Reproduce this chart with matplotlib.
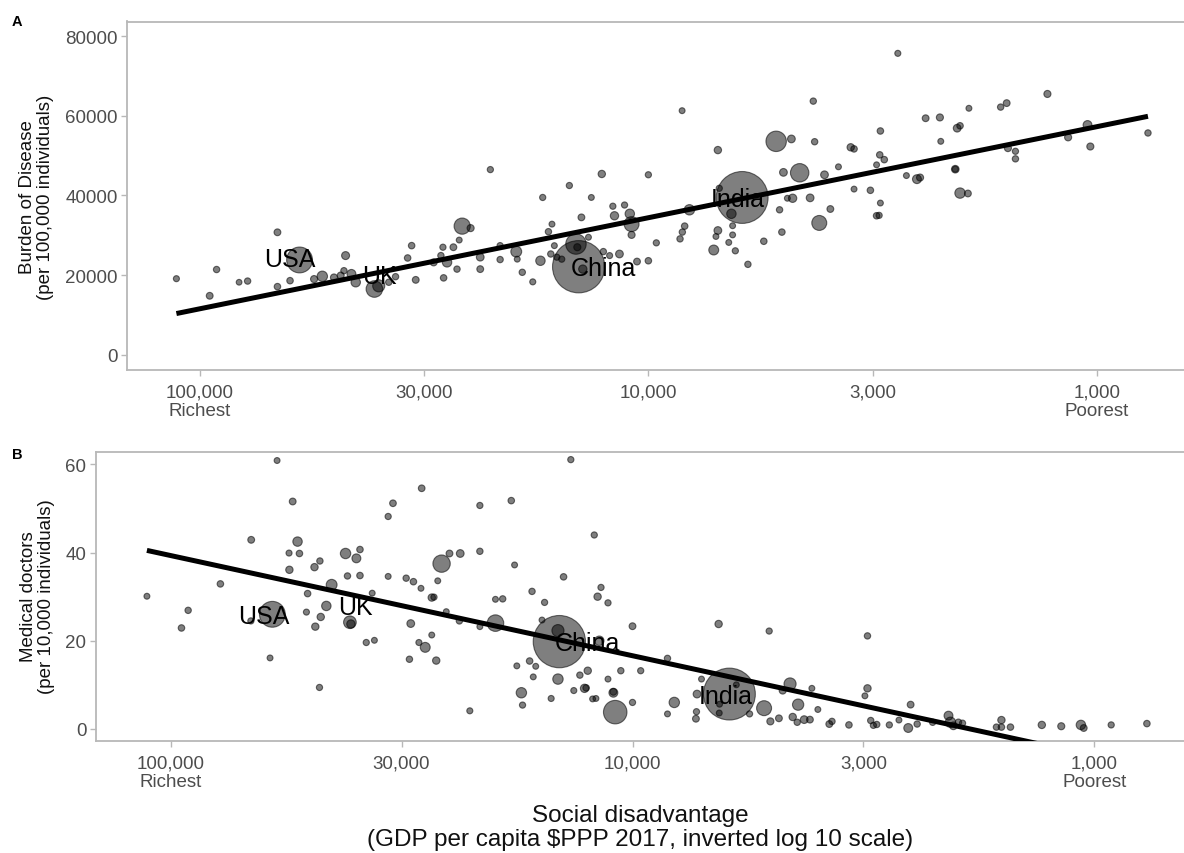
import numpy as np
import matplotlib
matplotlib.use('Agg')
import matplotlib.pyplot as plt

plt.rcParams['font.family'] = ['Liberation Sans', 'DejaVu Sans']

# Panel A: GDP per capita ($PPP 2017), burden of disease (per 100,000), population (millions)
gdp_a = [112700, 95000, 91700, 81700, 78200, 67100, 67100, 59900, 62900, 53300,
         55600, 47300, 50200, 48500, 47700, 45900, 44900, 40800, 39900, 37900,
         36600, 34400, 33700, 33000, 30100, 28600, 28700, 28100, 29000, 27200,
         26700, 26400, 26000, 24900, 23700, 23700, 22500, 21400, 21400, 19700,
         19600, 19100, 18100, 17400, 17200, 16700, 16400, 16500, 16200, 16000,
         15600, 15000, 14500, 14100, 14400, 14300, 14000, 13600, 13400, 12700,
         12600, 12200, 12000, 11900, 11600, 11300, 11000, 10900, 10900, 10600,
         10000, 10000, 9600, 8410, 8100, 8300, 8400, 8500, 7000, 6950,
         7000, 7150, 7070, 6180, 6530, 6490, 6490, 6620, 6400, 6000,
         5530, 5190, 4800, 5100, 5040, 5000, 4900, 4770, 4600, 4360,
         4290, 4260, 4050, 4160, 3930, 3770, 3480, 3540, 3480, 3200,
         3100, 3060, 3040, 3040, 3050, 2980, 3100, 2780, 2660, 2520,
         2480, 2410, 2240, 2230, 2050, 2020, 2070, 2070, 2020, 1940,
         1930, 1640, 1590, 1580, 1520, 1520, 1290, 1160, 1050, 1035, 770]
burden_a = [19.1, 14.8, 21.4, 18.2, 18.5, 30.75, 17.1, 23.8, 18.6, 19.7,
            19.0, 24.9, 19.4, 19.9, 21.1, 20.3, 18.2, 16.5, 17.3, 18.2,
            19.6, 24.3, 27.4, 18.8, 23.2, 19.3, 27.0, 23.2, 24.9, 27.0,
            21.5, 28.8, 32.3, 31.8, 24.5, 21.5, 46.5, 23.9, 27.4, 25.9,
            24.0, 20.7, 18.3, 23.6, 39.5, 30.9, 32.8, 25.3, 27.4, 24.5,
            24.0, 42.5, 27.8, 34.5, 27.0, 22.1, 21.5, 29.5, 39.5, 45.4,
            25.9, 24.9, 37.3, 34.9, 25.3, 37.6, 35.4, 32.8, 30.1, 23.4,
            45.2, 23.6, 28.1, 61.3, 36.4, 32.3, 30.8, 29.1, 51.4, 41.8,
            31.2, 26.3, 29.7, 39.5, 35.4, 32.4, 30.1, 28.2, 26.1, 22.7,
            28.5, 53.6, 54.2, 36.4, 30.8, 45.8, 39.3, 39.3, 45.7, 39.4,
            63.7, 53.5, 45.2, 33.1, 36.6, 47.2, 41.6, 52.1, 51.7, 41.3,
            34.9, 35.0, 38.1, 56.2, 50.2, 49.0, 47.7, 75.7, 45.0, 44.1,
            44.5, 59.4, 59.6, 53.6, 56.9, 57.5, 46.6, 46.6, 40.6, 40.5,
            61.9, 62.2, 63.2, 51.9, 51.1, 49.2, 65.5, 54.6, 57.7, 52.3, 55.7]
pop_a = [3, 8, 5, 1, 5, 8, 6, 330, 6, 40,
         10, 17, 10, 9, 5, 25, 30, 126, 60, 5,
         5, 6, 6, 8, 10, 6, 4, 30, 5, 8,
         5, 2, 120, 10, 15, 8, 4, 5, 4, 45,
         2, 5, 3, 30, 4, 5, 2, 5, 2, 4,
         4, 4, 200, 8, 10, 1400, 20, 2, 2, 12,
         5, 3, 4, 20, 15, 4, 30, 100, 10, 8,
         4, 6, 4, 2, 40, 6, 5, 5, 12, 4,
         15, 35, 2, 1380, 30, 2, 2, 2, 4, 5,
         6, 200, 15, 5, 6, 15, 2, 20, 160, 15,
         5, 5, 15, 100, 8, 2, 2, 12, 6, 6,
         6, 4, 2, 6, 6, 6, 2, 3, 2, 25,
         10, 8, 10, 2, 15, 6, 14, 3, 40, 8,
         2, 5, 8, 10, 4, 5, 10, 10, 25, 10, 5]

# Panel B: medical doctors (per 10,000)
gdp_b = [112500, 94700, 91600, 78000, 66900, 60900, 58800, 60200, 67000, 54400,
         55300, 55400, 53100, 52600, 50500, 50800, 48800, 47500, 47600, 48600,
         47300, 46000, 44800, 41800, 39600, 38900, 41400, 38900, 40900, 40700,
         37700, 36200, 36600, 33800, 33800, 33000, 28600, 30900, 29800, 28700,
         27200, 26900, 30200, 28100, 29000, 30400, 26600, 25900, 24900, 23600,
         26400, 25300, 23700, 27200, 22500, 21400, 21400, 21400, 19800, 19100,
         19800, 18300, 18000, 16500, 15500, 15700, 16700, 17800, 16200, 16400,
         17400, 17300, 15000, 14500, 14400, 14500, 13600, 14100, 12100, 11700,
         11900, 11300, 10000, 11800, 12500, 13000, 12700, 12600, 13400, 12200,
         12000, 11300, 11000, 11000, 10900, 10600, 10000, 9600, 8400, 8120,
         8400, 7290, 7270, 7250, 7090, 6510, 6170, 6480, 6490, 5960,
         5580, 5190, 5060, 4730, 4560, 5030, 4820, 4500, 4400, 4380,
         4250, 4130, 4090, 3970, 3750, 3700, 3400, 3100, 3140, 3100,
         3050, 2960, 3010, 2780, 2650, 2500, 2530, 2420, 2240, 2070,
         2050, 2020, 1970, 1930, 1630, 1590, 1590, 1520, 1300, 1180,
         1070, 1055, 920, 770]
doctors_b = [30.1, 22.9, 26.9, 32.9, 42.9, 16.1, 60.9, 26.0, 24.5, 51.6,
             36.1, 39.9, 42.5, 39.8, 30.7, 26.5, 36.7, 38.1, 9.4, 23.2,
             25.4, 27.9, 32.7, 39.8, 38.7, 40.7, 34.7, 34.8, 24.2, 23.8,
             19.6, 20.1, 30.8, 34.6, 48.2, 51.2, 54.6, 34.2, 33.4, 31.9,
             29.8, 29.9, 23.9, 18.5, 19.6, 15.8, 15.5, 37.5, 39.8, 39.8,
             33.6, 26.6, 24.5, 21.3, 4.1, 50.7, 40.3, 23.2, 29.4, 29.5,
             24.0, 51.8, 37.2, 31.2, 28.7, 24.7, 15.4, 14.3, 14.2, 11.8,
             8.2, 5.4, 6.9, 11.3, 19.8, 22.3, 61.1, 34.5, 44.0, 32.1,
             30.0, 28.6, 23.3, 20.0, 13.2, 12.2, 9.2, 9.3, 8.7, 6.8,
             6.9, 11.3, 8.2, 8.4, 3.8, 13.2, 6.0, 13.2, 16.0, 6.0,
             3.4, 2.3, 3.9, 7.9, 11.3, 23.8, 7.9, 5.6, 3.6, 10.0,
             3.4, 4.7, 22.2, 8.7, 10.2, 1.7, 2.4, 2.7, 1.5, 5.5,
             2.1, 2.1, 9.2, 4.4, 1.1, 1.7, 0.9, 9.2, 7.5, 21.1,
             1.9, 1.0, 0.8, 0.9, 2.0, 5.5, 0.2, 1.1, 1.5, 3.0,
             1.5, 0.7, 1.5, 1.3, 0.4, 2.0, 0.4, 0.4, 0.9, 0.6,
             0.9, 0.2, 0.9, 1.2]
pop_b = [2, 6, 5, 6, 8, 2, 2, 330, 4, 8,
         12, 3, 30, 6, 6, 3, 12, 5, 4, 12,
         12, 30, 45, 40, 25, 6, 5, 6, 67, 20,
         4, 2, 2, 2, 4, 7, 7, 5, 6, 2,
         12, 4, 15, 35, 3, 5, 12, 140, 8, 15,
         2, 2, 5, 2, 3, 4, 5, 2, 2, 5,
         126, 6, 2, 5, 4, 2, 6, 2, 2, 2,
         40, 4, 3, 40, 1400, 60, 4, 6, 4, 4,
         12, 4, 8, 30, 12, 5, 20, 6, 3, 2,
         2, 2, 25, 8, 270, 5, 4, 4, 5, 40,
         2, 8, 4, 15, 2, 12, 1380, 2, 2, 2,
         4, 100, 4, 10, 60, 10, 8, 12, 5, 50,
         15, 8, 2, 2, 8, 5, 6, 12, 2, 5,
         5, 5, 4, 4, 2, 8, 25, 5, 5, 25,
         40, 15, 6, 4, 5, 12, 6, 6, 12, 10,
         30, 8, 4, 6]

# Linear fits against log10(GDP): (intercept, slope)
fit_a = (125.93, -22.88)   # thousands per 100,000
fit_b = (-74.36, 22.74)

# Country labels
label_names = ['USA', 'UK', 'China', 'India']
label_gdp_a = [63000, 39800, 12600, 6310]
label_y_a = [24.0, 19.8, 21.8, 39.1]
label_gdp_b = [62900, 39700, 12540, 6290]
label_y_b = [25.6, 27.6, 19.6, 7.5]

gdp_ticks = [1e5, 10**4.5, 1e4, 10**3.5, 1e3]
gdp_tick_labels = ['100,000\nRichest', '30,000', '10,000', '3,000', '1,000\nPoorest']

TICK_COLOR = '#4D4D4D'
BORDER_COLOR = '#B8B8B8'
W, H = 1184, 854


def bubble_panel(ax, gdp, vals, pop, fit, lab_gdp, lab_y, ylim, yticks, yscale=1.0):
	gdp = np.array(gdp, dtype=float)
	vals = np.array(vals, dtype=float) * yscale
	sizes = 16 + np.array(pop, dtype=float)

	ax.scatter(gdp, vals, s=sizes, facecolor=(0, 0, 0, 0.5),
			   edgecolor=(0, 0, 0, 0.55), linewidths=0.8, zorder=2)

	# fitted line over the data range
	xs = np.array([gdp.min(), gdp.max()])
	ys = (fit[0] + fit[1] * np.log10(xs)) * yscale
	ax.plot(xs, ys, color='black', linewidth=3.6, solid_capstyle='butt', zorder=3)

	for name, gx, gy in zip(label_names, lab_gdp, lab_y):
		ax.text(gx, gy * yscale, name, fontsize=18, color='black',
				ha='center', va='center', zorder=4)

	ax.set_xscale('log')
	ax.set_xlim(145000, 640)
	ax.set_ylim(*ylim)
	ax.minorticks_off()
	ax.set_xticks(gdp_ticks)
	ax.set_xticklabels(gdp_tick_labels, linespacing=1.15)
	ax.set_yticks(yticks)
	ax.set_yticklabels([str(int(t)) for t in yticks])
	ax.tick_params(axis='both', colors=BORDER_COLOR, labelcolor=TICK_COLOR,
				   labelsize=13.5, length=4.5, width=1.0)
	ax.tick_params(axis='x', pad=5)
	ax.tick_params(axis='y', pad=2.5)
	for sp in ax.spines.values():
		sp.set_color(BORDER_COLOR)
		sp.set_linewidth(1.3)
	ax.spines['right'].set_visible(False)


fig = plt.figure(figsize=(W / 100, H / 100), dpi=100)

# Panel A
ax_a = fig.add_axes([127.3 / W, 1 - 371 / H, (1184 - 127.3) / W, (371 - 22.5) / H])
bubble_panel(ax_a, gdp_a, burden_a, pop_a, fit_a, label_gdp_a, label_y_a,
			 (-3840, 83700), [0, 20000, 40000, 60000, 80000], yscale=1000)

# Panel B
ax_b = fig.add_axes([96 / W, 1 - 742 / H, (1184 - 96) / W, (742 - 452.7) / H])
bubble_panel(ax_b, gdp_b, doctors_b, pop_b, fit_b, label_gdp_b, label_y_b,
			 (-2.75, 62.9), [0, 20, 40, 60])

# Axis titles
fig.text(36.5 / W, 1 - 197 / H, 'Burden of Disease\n(per 100,000 individuals)',
		 rotation=90, ha='center', va='center', fontsize=13.5, color='#111111',
		 linespacing=1.1)
fig.text(37.3 / W, 1 - 597 / H, 'Medical doctors\n(per 10,000 individuals)',
		 rotation=90, ha='center', va='center', fontsize=13.5, color='#111111',
		 linespacing=1.1)
fig.text(640 / W, 1 - 828 / H,
		 'Social disadvantage\n(GDP per capita $PPP 2017, inverted log 10 scale)',
		 ha='center', va='center', fontsize=17.5, color='#111111', linespacing=1.15)

# Panel tags
fig.text(17 / W, 1 - 22 / H, 'A', ha='center', va='center', fontsize=10.5, fontweight='bold')
fig.text(17 / W, 1 - 455 / H, 'B', ha='center', va='center', fontsize=10.5, fontweight='bold')

fig.savefig('out.png', dpi=100)
